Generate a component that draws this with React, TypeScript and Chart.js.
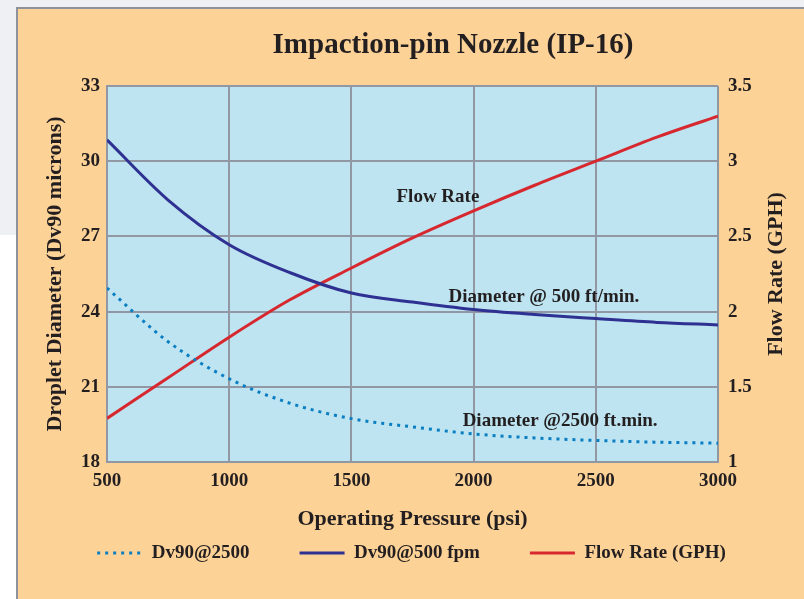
import React, { useEffect, useRef } from "react";
import { Chart, registerables } from "chart.js";

Chart.register(...registerables);

// ---------- data ----------
const pressure = [500, 750, 1000, 1250, 1500, 1750, 2000, 2250, 2500, 2750, 3000];
const dv90At2500 = [24.94, 22.8, 21.32, 20.34, 19.73, 19.4, 19.12, 18.96, 18.86, 18.79, 18.75];
const dv90At500 = [30.85, 28.45, 26.67, 25.55, 24.74, 24.38, 24.08, 23.88, 23.72, 23.57, 23.47];
const flowRate = [1.29, 1.56, 1.83, 2.08, 2.29, 2.49, 2.67, 2.84, 3.0, 3.16, 3.3];

const seriesLabels = ["Dv90@2500", "Dv90@500 fpm", "Flow Rate (GPH)"];
const xTicks = [500, 1000, 1500, 2000, 2500, 3000];
const leftTicks = [18, 21, 24, 27, 30, 33];
const rightTicks = [1, 1.5, 2, 2.5, 3, 3.5];

const chartTitle = "Impaction-pin Nozzle (IP-16)";
const xTitle = "Operating Pressure (psi)";
const leftTitle = "Droplet Diameter (Dv90 microns)";
const rightTitle = "Flow Rate (GPH)";

const annotationTexts = ["Flow Rate", "Diameter @ 500 ft/min.", "Diameter @2500 ft.min."];
const annotationX = [1854, 2288, 2354];
const annotationY = [28.57, 24.58, 19.65];

// ---------- styles ----------
const FAMILY = "'Liberation Serif', 'Times New Roman', serif";
const TEXT = "#231F20";
const GRID = "#9198A3";
const PEACH = "#FDD297";
const PLOT_BG = "#BDE4F0";

const LP = 19;
const LEGEND_PAD = 50;

const backgroundPlugin = {
  id: "bgPlugin",
  beforeDraw(chart: any) {
    const { ctx, width, height, chartArea } = chart;
    ctx.save();
    ctx.fillStyle = "#EEF0F4";
    ctx.fillRect(0, 0, width, height);
    ctx.fillStyle = "#FFFFFF";
    ctx.fillRect(0, 235, 16, height - 235);
    ctx.fillStyle = "#8E939B";
    ctx.fillRect(16, 7, width - 16, height - 7);
    ctx.fillStyle = PEACH;
    ctx.fillRect(18, 9, width - 18, height - 9);
    ctx.fillStyle = PLOT_BG;
    ctx.fillRect(chartArea.left, chartArea.top, chartArea.right - chartArea.left, chartArea.bottom - chartArea.top);
    ctx.restore();
  },
};

const textPlugin = {
  id: "textPlugin",
  afterDatasetsDraw(chart: any) {
    const { ctx, scales } = chart;
    ctx.save();
    ctx.fillStyle = TEXT;
    ctx.textAlign = "center";
    ctx.textBaseline = "middle";
    ctx.font = `bold 19px ${FAMILY}`;
    annotationTexts.forEach((t, i) => {
      ctx.fillText(t, scales.x.getPixelForValue(annotationX[i]), scales.y.getPixelForValue(annotationY[i]));
    });
    ctx.font = `bold 29px ${FAMILY}`;
    ctx.fillText(chartTitle, 453, 46);
    ctx.font = `bold 22px ${FAMILY}`;
    const ca = chart.chartArea;
    ctx.translate(776, (ca.top + ca.bottom) / 2);
    ctx.rotate(-Math.PI / 2);
    ctx.fillText(rightTitle, 0, 0);
    ctx.restore();
  },
};

export default function App() {
  const canvasRef = useRef<HTMLCanvasElement | null>(null);

  useEffect(() => {
    if (!canvasRef.current) return;
    const tickFont = { family: FAMILY, size: 19, weight: "bold" as const };
    const plain = (v: any) => String(v);
    const chart = new Chart(canvasRef.current, {
      type: "line",
      data: {
        datasets: [
          {
            label: seriesLabels[0],
            data: pressure.map((p, i) => ({ x: p, y: dv90At2500[i] })),
            borderColor: "#0A7EC2",
            backgroundColor: "#0A7EC2",
            borderWidth: 3,
            borderDash: [3, 5],
            borderCapStyle: "butt",
            pointRadius: 0,
            cubicInterpolationMode: "monotone",
            yAxisID: "y",
          },
          {
            label: seriesLabels[1],
            data: pressure.map((p, i) => ({ x: p, y: dv90At500[i] })),
            borderColor: "#2E3192",
            backgroundColor: "#2E3192",
            borderWidth: 3,
            pointRadius: 0,
            cubicInterpolationMode: "monotone",
            yAxisID: "y",
          },
          {
            label: seriesLabels[2],
            data: pressure.map((p, i) => ({ x: p, y: flowRate[i] })),
            borderColor: "#D7282F",
            backgroundColor: "#D7282F",
            borderWidth: 3,
            pointRadius: 0,
            cubicInterpolationMode: "monotone",
            yAxisID: "y1",
          },
        ],
      },
      options: {
        animation: false,
        responsive: true,
        maintainAspectRatio: false,
        devicePixelRatio: 1,
        layout: { padding: { left: LP, right: 0, top: 86, bottom: 26.5 } },
        plugins: {
          title: { display: false },
          tooltip: { enabled: false },
          legend: {
            display: true,
            position: "bottom",
            labels: {
              usePointStyle: true,
              pointStyle: "line",
              pointStyleWidth: 45,
              padding: LEGEND_PAD,
              color: TEXT,
              font: tickFont,
              generateLabels: (ch: any) => {
                const base = (Chart.defaults.plugins.legend.labels as any).generateLabels(ch);
                return base.map((item: any) => {
                  const ds = ch.data.datasets[item.datasetIndex];
                  return {
                    ...item,
                    pointStyle: "line",
                    strokeStyle: ds.borderColor,
                    fillStyle: ds.borderColor,
                    lineWidth: ds.borderWidth,
                    lineDash: ds.borderDash || [],
                    lineCap: "butt",
                  };
                });
              },
            },
          },
        },
        scales: {
          x: {
            type: "linear",
            min: 500,
            max: 3000,
            afterBuildTicks: (s: any) => {
              s.ticks = xTicks.map((v) => ({ value: v }));
            },
            afterFit: (s: any) => {
              s.height = 31.5;
            },
            grid: { color: GRID, lineWidth: 2, drawTicks: false },
            border: { color: GRID, width: 2 },
            ticks: { color: TEXT, font: tickFont, padding: 8, maxRotation: 0, autoSkip: false, callback: plain },
            title: {
              display: true,
              text: xTitle,
              color: TEXT,
              font: { family: FAMILY, size: 22, weight: "bold" },
              padding: { top: 0, bottom: -38.7 },
            },
          },
          y: {
            type: "linear",
            position: "left",
            min: 18,
            max: 33,
            afterBuildTicks: (s: any) => {
              s.ticks = leftTicks.map((v) => ({ value: v }));
            },
            afterFit: (s: any) => {
              s.width = 107 - LP;
            },
            grid: { color: GRID, lineWidth: 2, drawTicks: false },
            border: { color: GRID, width: 2 },
            ticks: { color: TEXT, font: tickFont, padding: 7, callback: plain },
            title: {
              display: true,
              text: leftTitle,
              color: TEXT,
              font: { family: FAMILY, size: 22, weight: "bold" },
              padding: { top: 55 - LP - 13.2, bottom: 0 },
            },
          },
          y1: {
            type: "linear",
            position: "right",
            min: 1,
            max: 3.5,
            afterBuildTicks: (s: any) => {
              s.ticks = rightTicks.map((v) => ({ value: v }));
            },
            afterFit: (s: any) => {
              s.width = 86;
            },
            grid: { drawOnChartArea: false, drawTicks: false },
            border: { display: false },
            ticks: { color: TEXT, font: tickFont, padding: 10, callback: plain },
          },
        },
      },
      plugins: [backgroundPlugin, textPlugin],
    } as any);
    return () => chart.destroy();
  }, []);

  return (
    <div style={{ position: "absolute", left: 0, top: 0, width: 804, height: 599 }}>
      <canvas ref={canvasRef} />
    </div>
  );
}
